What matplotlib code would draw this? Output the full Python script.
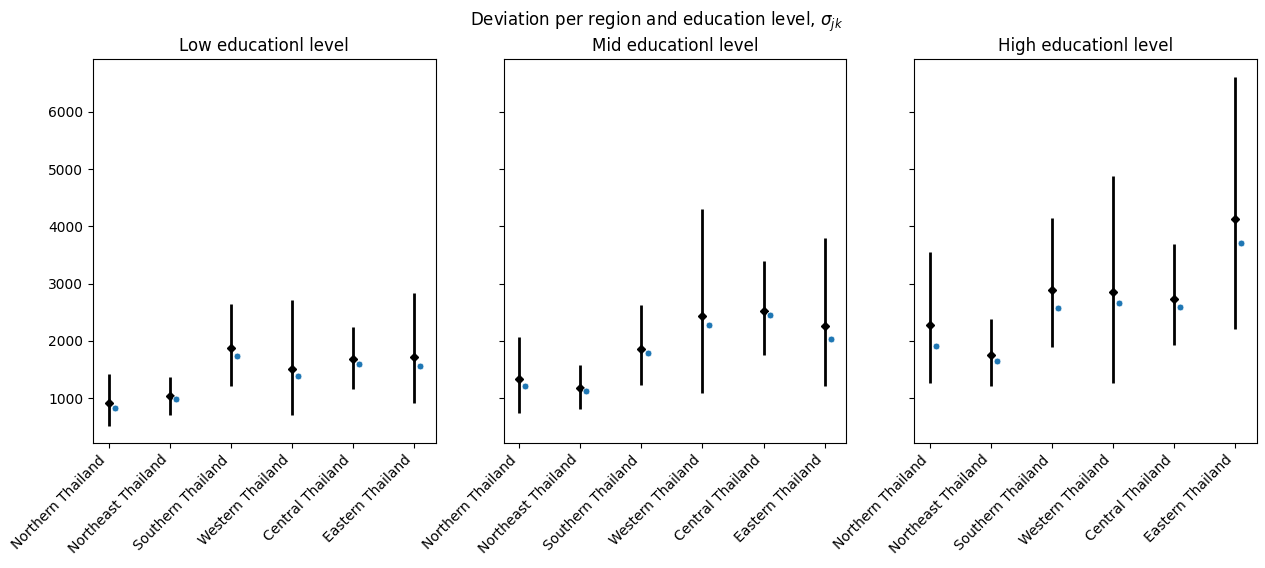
import matplotlib
matplotlib.use('Agg')
import matplotlib.pyplot as plt
import numpy as np

regions = ['Northern Thailand', 'Northeast Thailand', 'Southern Thailand',
           'Western Thailand', 'Central Thailand', 'Eastern Thailand']
levels = ['Low', 'Mid', 'High']

# posterior mean, lower / upper interval, observed deviation
low_mean = [913, 1029, 1879, 1515, 1676, 1723]
low_lo = [520, 700, 1214, 711, 1162, 919]
low_hi = [1428, 1376, 2647, 2717, 2243, 2832]
low_obs = [827, 983, 1740, 1381, 1600, 1566]

mid_mean = [1341, 1168, 1862, 2434, 2526, 2266]
mid_lo = [740, 815, 1231, 1092, 1751, 1214]
mid_hi = [2075, 1572, 2630, 4295, 3398, 3792]
mid_obs = [1220, 1116, 1792, 2278, 2451, 2035]

high_mean = [2283, 1757, 2885, 2850, 2734, 4133]
high_lo = [1272, 1214, 1890, 1272, 1925, 2202]
high_hi = [3549, 2387, 4150, 4879, 3688, 6618]
high_obs = [1913, 1653, 2573, 2659, 2590, 3717]

data = [
    (low_mean, low_lo, low_hi, low_obs),
    (mid_mean, mid_lo, mid_hi, mid_obs),
    (high_mean, high_lo, high_hi, high_obs),
]

fig, axes = plt.subplots(1, 3, figsize=(12.65, 5.68), dpi=100, sharey=True)
fig.subplots_adjust(left=0.0735, right=0.9937, top=0.896, bottom=0.22, wspace=0.199)

x = np.arange(len(regions))
for ax, level, (m, lo, hi, obs) in zip(axes, levels, data):
    m = np.array(m)
    yerr = [m - np.array(lo), np.array(hi) - m]
    ax.errorbar(x, m, yerr=yerr, fmt='D', color='black', markersize=4.5,
                elinewidth=2, capsize=0)
    ax.scatter(x + 0.1, obs, s=24, color='#1f77b4', edgecolors='white',
               linewidths=0.5, zorder=3)
    ax.set_title(level + ' educationl level')
    ax.set_xticks(x)
    ax.set_xticklabels(regions, rotation=45, ha='right')

fig.suptitle(r'Deviation per region and education level, $\sigma_{jk}$', x=0.519, y=0.983)
fig.savefig('out.png')
